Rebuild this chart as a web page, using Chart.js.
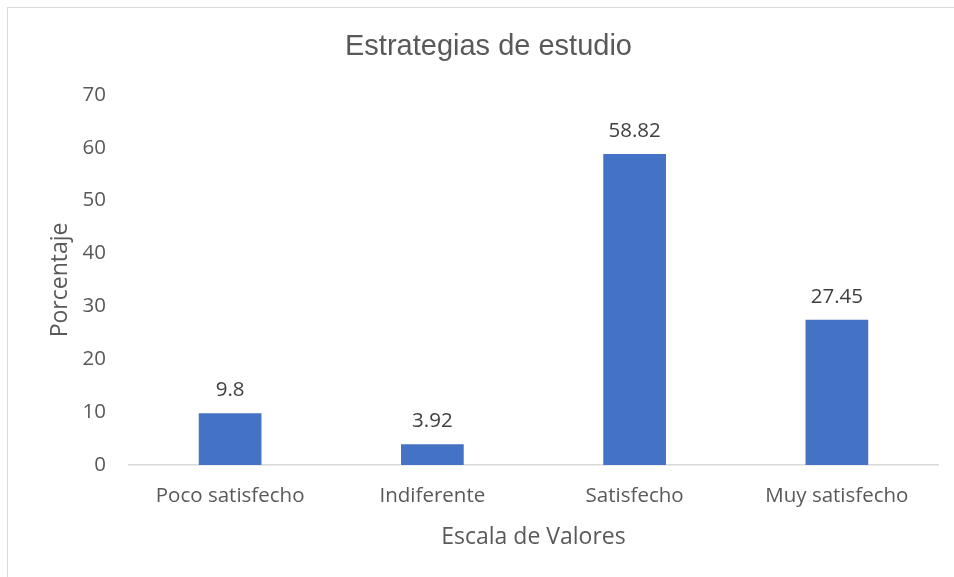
<!DOCTYPE html>
<html lang="es">
<head>
  <meta charset="UTF-8" />
  <title>Estrategias de estudio</title>
  <script src="https://cdn.jsdelivr.net/npm/chart.js"></script>
  <style>
    html, body {
      margin: 0;
      padding: 0;
      background: #ffffff;
      overflow: hidden;
    }
    .marco {
      position: absolute;
      left: 7px;
      top: 7px;
      width: 1000px;
      height: 1000px;
      border: 1.5px solid #d9d9d9;
    }
    .caja {
      position: absolute;
      left: 0;
      top: 0;
      width: 954px;
      height: 577px;
    }
  </style>
</head>
<body>
  <div class="marco"></div>
  <div class="caja"><canvas id="grafica"></canvas></div>
  <script>
    const categorias = ['Poco satisfecho', 'Indiferente', 'Satisfecho', 'Muy satisfecho'];
    const porcentajes = [9.8, 3.92, 58.82, 27.45];
    const ticksY = [0, 10, 20, 30, 40, 50, 60, 70];

    const gris = '#595959';
    const fuente = "'Open Sans', sans-serif";

    // etiquetas de valor encima de cada barra
    const etiquetasBarras = {
      id: 'etiquetasBarras',
      afterDatasetsDraw(chart) {
        const ctx = chart.ctx;
        const meta = chart.getDatasetMeta(0);
        ctx.save();
        ctx.font = '20.5px ' + fuente;
        ctx.fillStyle = '#404040';
        ctx.textAlign = 'center';
        ctx.textBaseline = 'middle';
        meta.data.forEach((barra, i) => {
          ctx.fillText(String(porcentajes[i]), barra.x, barra.y - 23);
        });
        ctx.restore();
      }
    };

    new Chart(document.getElementById('grafica'), {
      type: 'bar',
      data: {
        labels: categorias,
        datasets: [{
          data: porcentajes,
          backgroundColor: '#4472c4',
          barPercentage: 0.31,
          categoryPercentage: 1
        }]
      },
      options: {
        responsive: true,
        maintainAspectRatio: false,
        animation: false,
        layout: { padding: { top: 10, left: 39, right: 16, bottom: 26 } },
        plugins: {
          legend: { display: false },
          tooltip: { enabled: false },
          title: {
            display: true,
            text: 'Estrategias de estudio',
            color: gris,
            font: { family: "'Liberation Sans', Arial, sans-serif", size: 29, weight: 'normal' },
            padding: { top: 19.6, bottom: 30.4 }
          }
        },
        scales: {
          x: {
            afterFit(scale) {
              scale.height = 86;
            },
            grid: { display: false, drawTicks: false },
            border: { display: true, color: '#d9d9d9', width: 1.5 },
            ticks: { color: gris, padding: 18.7, font: { family: fuente, size: 20.5 } },
            title: {
              display: true,
              text: 'Escala de Valores',
              color: gris,
              font: { family: fuente, size: 23 },
              padding: { top: 10, bottom: 0 }
            }
          },
          y: {
            min: 0,
            max: 70,
            afterBuildTicks(scale) {
              scale.ticks = ticksY.map(v => ({ value: v }));
            },
            afterFit(scale) {
              scale.width = 90;
            },
            grid: { display: false, drawTicks: false },
            border: { display: false },
            ticks: { color: gris, padding: 23, font: { family: fuente, size: 20.5 } },
            title: {
              display: true,
              text: 'Porcentaje',
              color: gris,
              font: { family: fuente, size: 23 },
              padding: { top: 7.2, bottom: 0 }
            }
          }
        }
      },
      plugins: [etiquetasBarras]
    });
  </script>
</body>
</html>
